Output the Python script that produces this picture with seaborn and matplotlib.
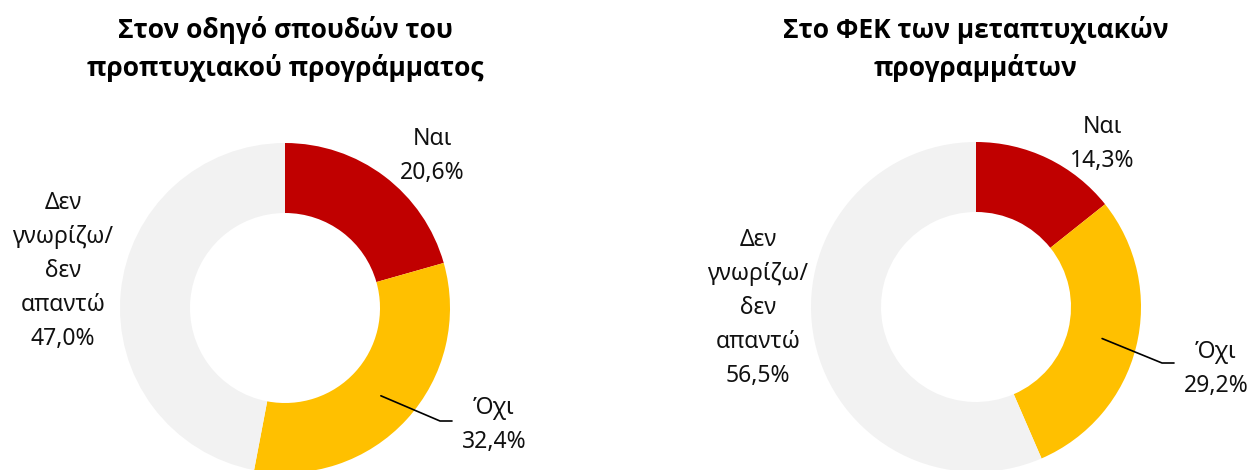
import numpy as np
import matplotlib
matplotlib.use("Agg")
import matplotlib.pyplot as plt
import seaborn as sns

# data
categories = ["Ναι", "Όχι", "Δεν\nγνωρίζω/\nδεν\nαπαντώ"]
titles = ["Στον οδηγό σπουδών του\nπροπτυχιακού προγράμματος",
          "Στο ΦΕΚ των μεταπτυχιακών\nπρογραμμάτων"]
undergrad = [20.6, 32.4, 47.0]
postgrad = [14.3, 29.2, 56.5]

# layout (pixel coords, y measured from top)
W, H = 1249, 470
centers = [(285, 308), (976, 307)]
R_OUT, R_IN = 165, 95
label_pos = [
    [(432, 156), (494, 425), (63, 271)],
    [(1102, 144), (1216, 369), (758, 308)],
]
leader_elbow = [(440, 421), (1162, 363)]
colors = sns.color_palette(["#C00000", "#FFC000", "#F2F2F2"])


def fmt(v):
    return f"{v:.1f}".replace(".", ",") + "%"


def draw_donut(ax, values, center, labels_xy, elbow, title):
    cx, cy = center[0], H - center[1]
    wedges, _ = ax.pie(
        values,
        colors=colors,
        startangle=90,
        counterclock=False,
        center=(cx, cy),
        radius=R_OUT,
        wedgeprops=dict(width=R_OUT - R_IN, linewidth=0),
    )
    for cat, v, (lx, ly) in zip(categories, values, labels_xy):
        ax.text(lx, H - ly, f"{cat}\n{fmt(v)}", ha="center", va="center",
                fontsize=16.5, color="#111111", linespacing=1.55)

    # leader line for the middle slice
    w = wedges[1]
    theta = np.deg2rad((w.theta1 + w.theta2) / 2)
    rm = (R_OUT + R_IN) / 2
    sx, sy = cx + rm * np.cos(theta), cy + rm * np.sin(theta)
    ex, ey = elbow[0], H - elbow[1]
    ax.plot([sx, ex, ex + 12], [sy, ey, ey], color="black", linewidth=1.2)

    ax.text(center[0], H - 49, title, ha="center", va="center",
            fontsize=19, fontweight="bold", color="black", linespacing=1.43,
            family=["Open Sans", "Noto Sans", "DejaVu Sans"])


def main():
    sns.set_theme(style="white")
    plt.rcParams["font.family"] = ["Noto Sans", "DejaVu Sans"]

    fig = plt.figure(figsize=(W / 100, H / 100), dpi=100)
    ax = fig.add_axes([0, 0, 1, 1])

    for values, center, labels_xy, elbow, title in zip(
        [undergrad, postgrad], centers, label_pos, leader_elbow, titles
    ):
        draw_donut(ax, values, center, labels_xy, elbow, title)

    ax.set_xlim(0, W)
    ax.set_ylim(0, H)
    ax.set_aspect("equal")
    ax.axis("off")
    fig.savefig("out.png", dpi=100, facecolor="white")
    plt.close(fig)


if __name__ == "__main__":
    main()
